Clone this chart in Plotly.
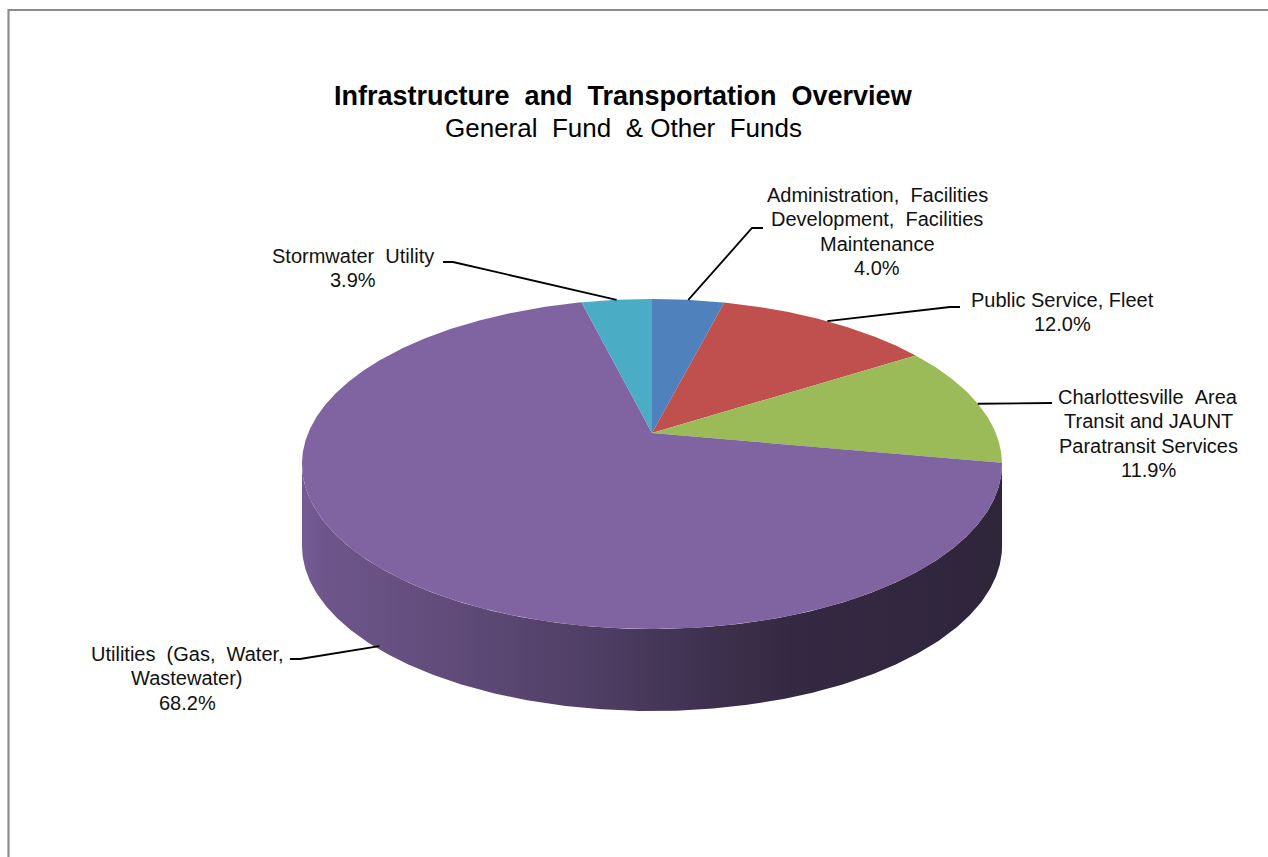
import numpy as np
import plotly.graph_objects as go

# ---------------- data ----------------
categories = [
    "Administration, Facilities Development, Facilities Maintenance",
    "Public Service, Fleet",
    "Charlottesville Area Transit and JAUNT Paratransit Services",
    "Utilities (Gas, Water, Wastewater)",
    "Stormwater Utility",
]
values = [4.0, 12.0, 11.9, 68.2, 3.9]
slice_colors = ["#4F81BD", "#C0504D", "#9BBB59", "#8064A2", "#4BACC6"]
label_lines = [
    ["Administration,  Facilities", "Development,  Facilities", "Maintenance"],
    ["Public Service, Fleet"],
    ["Charlottesville  Area", "Transit and JAUNT", "Paratransit Services"],
    ["Utilities  (Gas,  Water,", "Wastewater)"],
    ["Stormwater  Utility"],
]
title_text = "Infrastructure  and  Transportation  Overview"
subtitle_text = "General  Fund  & Other  Funds"

# ---------------- layout / geometry (styling, not data) ----------------
W, H = 1268, 857
CX, CY = 652.0, 433.0      # apex of the pie on screen
A, B, K = 159.2, 343.8, 0.1879   # perspective tilt parameters
D = 82.0                   # thickness of the pie
label_center = [(877, 195), (1062, 300), (1148, 397), (187, 654), (353, 256)]
line_gap = 24.3
leader_route = [
    [(752, 228), (763, 228)],
    [(950, 307), (960, 307)],
    [(1052, 403)],
    [(300, 659), (290, 659)],
    [(453, 262), (443, 262)],
]
anchor_drop = [0, 0, 0, 0.96, 0]
FONT = "Liberation Sans, Arial, sans-serif"


def sp(s):
    return s.replace("  ", " \u00a0")


def proj(theta_deg, drop=0.0):
    t = np.radians(theta_deg)
    X, Z = np.sin(t), np.cos(t)
    den = 1 + K * Z
    return CX + B * X / den, CY - A * Z / den + drop


def hex_rgb(h):
    h = h.lstrip("#")
    return tuple(int(h[i:i + 2], 16) for i in (0, 2, 4))


def shade(h, f):
    r, g, b = hex_rgb(h)
    return "rgb(%d,%d,%d)" % (r * f, g * f, b * f)


side_stops = [(0, 0.92), (0.03, 0.86), (0.2, 0.76), (0.42, 0.62), (0.58, 0.49), (0.7, 0.41), (1, 0.37)]

total = sum(values)
bounds = np.concatenate([[0], np.cumsum(values)]) / total * 360.0
th_r = np.degrees(np.arccos(-K))
th_l = 360 - th_r

fig = go.Figure()

# side walls
for i, col in enumerate(slice_colors):
    a, b = bounds[i], bounds[i + 1]
    lo, hi = max(a, th_r), min(b, th_l)
    if hi <= lo:
        continue
    th = np.linspace(lo, hi, max(3, int((hi - lo) * 2)))
    xt, yt = proj(th)
    xb, yb = proj(th[::-1], D)
    fig.add_trace(go.Scatter(
        x=np.concatenate([xt, xb]), y=np.concatenate([yt, yb]),
        mode="lines", fill="toself", line=dict(width=0),
        fillgradient=dict(type="horizontal",
                          colorscale=[[s, shade(col, f)] for s, f in side_stops]),
        hoverinfo="skip", showlegend=False))

# top faces
for i, col in enumerate(slice_colors):
    a, b = bounds[i], bounds[i + 1]
    th = np.linspace(a, b, max(3, int((b - a) * 3)))
    xr, yr = proj(th)
    fig.add_trace(go.Scatter(
        x=np.concatenate([[CX], xr, [CX]]), y=np.concatenate([[CY], yr, [CY]]),
        mode="lines", fill="toself", fillcolor=col, line=dict(width=0),
        name=categories[i], hoverinfo="skip", showlegend=False))

# leader lines
for i in range(len(values)):
    mid = (bounds[i] + bounds[i + 1]) / 2
    ax, ay = proj(mid, D * anchor_drop[i])
    xs = [ax] + [p[0] for p in leader_route[i]]
    ys = [ay] + [p[1] for p in leader_route[i]]
    fig.add_trace(go.Scatter(x=xs, y=ys, mode="lines",
                             line=dict(color="black", width=1.8),
                             hoverinfo="skip", showlegend=False))

annotations = []
for i, v in enumerate(values):
    lines = label_lines[i] + ["%.1f%%" % v]
    cx, cy = label_center[i]
    for j, ln in enumerate(lines):
        annotations.append(dict(x=cx, y=cy + j * line_gap, text=sp(ln), showarrow=False,
                                xanchor="center", yanchor="middle",
                                font=dict(family=FONT, size=20, color="#111111")))
annotations.append(dict(x=623, y=96, text="<b>" + sp(title_text) + "</b>", showarrow=False,
                        xanchor="center", yanchor="middle",
                        font=dict(family=FONT, size=27, color="#000000")))
annotations.append(dict(x=623, y=128, text=sp(subtitle_text), showarrow=False,
                        xanchor="center", yanchor="middle",
                        font=dict(family=FONT, size=26, color="#000000")))

fig.update_layout(
    width=W, height=H, margin=dict(l=0, r=0, t=0, b=0),
    paper_bgcolor="white", plot_bgcolor="white",
    xaxis=dict(range=[0, W], visible=False, fixedrange=True),
    yaxis=dict(range=[H, 0], visible=False, fixedrange=True),
    annotations=annotations,
    shapes=[dict(type="rect", xref="x", yref="y", x0=8.5, y0=10, x1=W + 20, y1=H + 20,
                 line=dict(color="#8c8c8c", width=2.2), layer="below")],
    showlegend=False,
)

fig.write_html("out.html")
